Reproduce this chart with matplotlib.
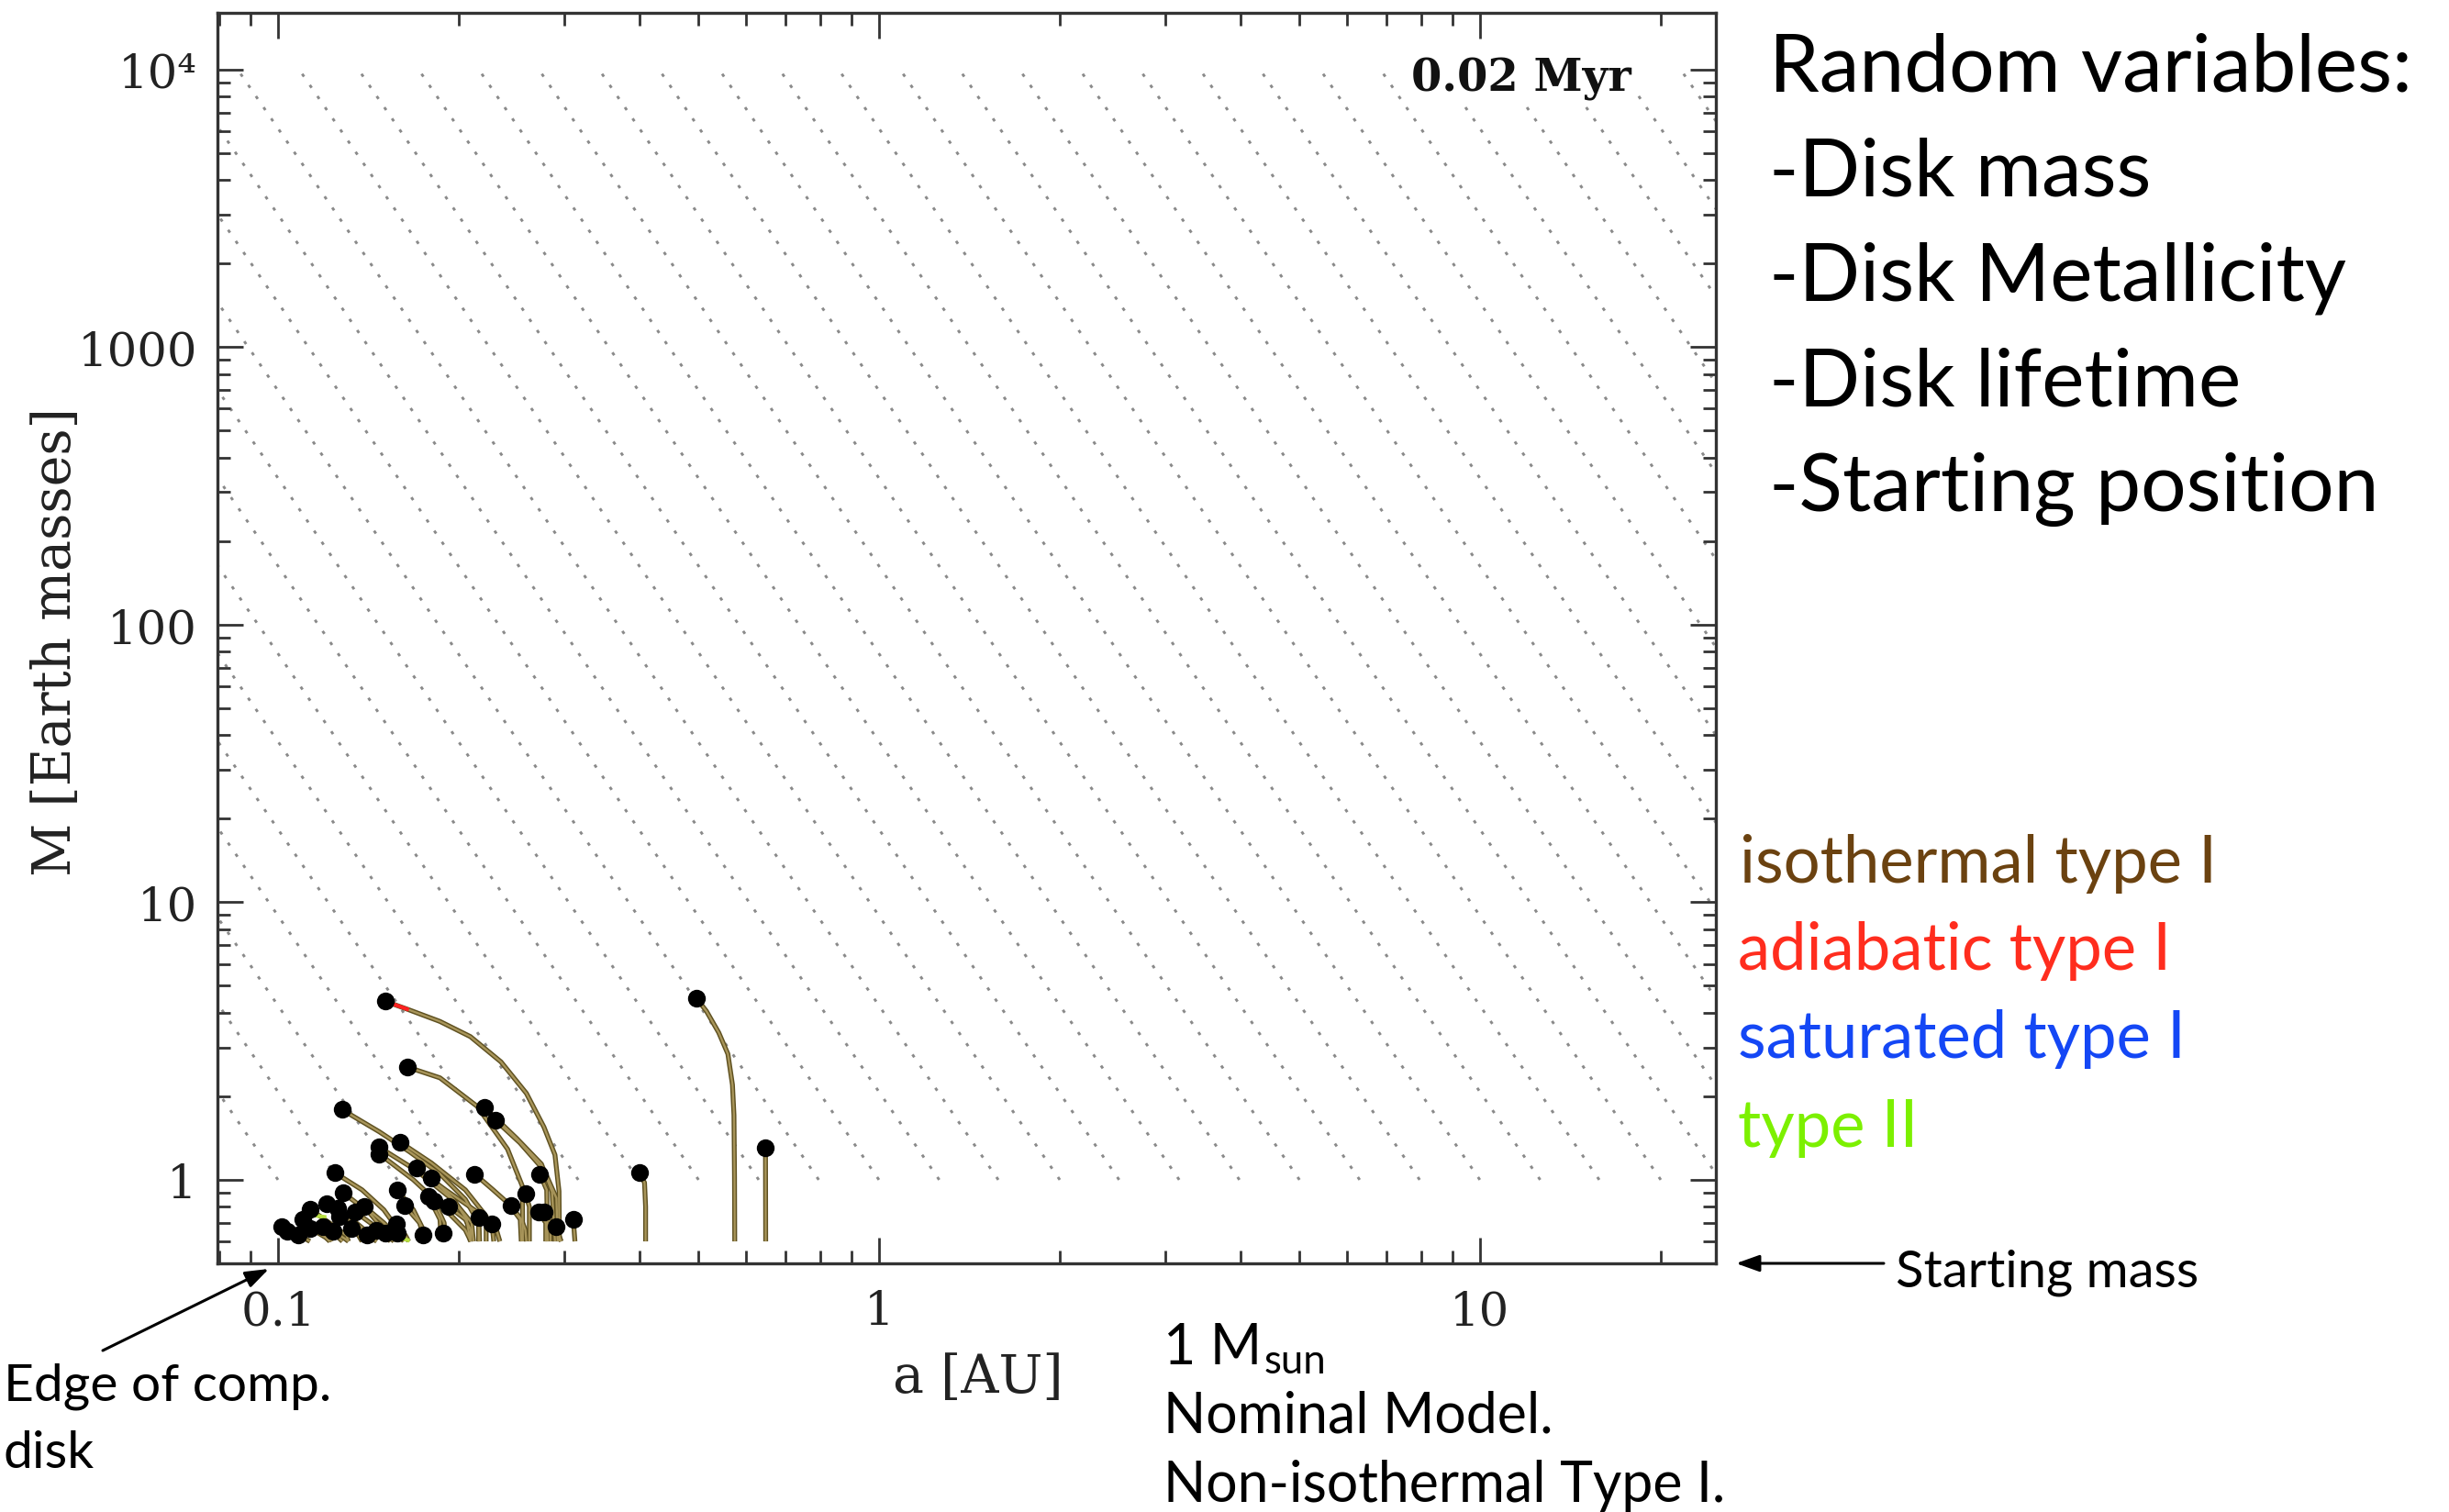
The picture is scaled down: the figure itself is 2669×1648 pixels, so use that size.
import matplotlib
matplotlib.use('Agg')
import matplotlib.pyplot as plt
from matplotlib.ticker import FixedLocator, FixedFormatter, LogLocator, NullFormatter

plt.rcParams['lines.scale_dashes'] = False

W, H, DPI = 2669, 1649, 100

# ---------------- data ----------------
x_ticks = [0.1, 1, 10]
x_ticklabels = ['0.1', '1', '10']
y_ticks = [1, 10, 100, 1000, 1e4]
y_ticklabels = ['1', '10', '100', '1000', '10⁴']
x_limits = (0.0793, 24.7)
y_limits = (0.5, 1.6e4)
time_label = '0.02 Myr'
x_label = 'a [AU]'
y_label = 'M [Earth masses]'

# background guide lines: semimajor axis where each line crosses M = 1
guide_a_at_M1 = [0.1, 0.126, 0.158, 0.2, 0.251, 0.316, 0.398, 0.501, 0.631, 0.794,
                 1.0, 1.26, 1.58, 2.0, 2.51, 3.16, 3.98, 5.01, 6.31, 7.94,
                 10.0, 12.6, 15.8, 20.0, 25.1, 31.6, 39.8, 50.1, 63.1, 79.4,
                 100, 126, 158, 200, 251, 316, 398]
guide_slope = -3.16
guide_m_range = (1.0, 1.0e4)

# planet tracks: first point = current position (dot), last = start at starting mass
track_a = [
    [0.1507, 0.164, 0.186, 0.209, 0.235, 0.259, 0.277, 0.289, 0.2935, 0.294],
    [0.4973, 0.5164, 0.5413, 0.5606, 0.5705, 0.5738, 0.575, 0.5755],
    [0.6475, 0.648],
    [0.399, 0.4073, 0.409, 0.409],
    [0.164, 0.186, 0.2145, 0.241, 0.255, 0.2555],
    [0.2208, 0.2496, 0.2744, 0.2858, 0.289],
    [0.230, 0.2526, 0.2774, 0.2906, 0.292],
    [0.2727, 0.280, 0.281],
    [0.258, 0.262, 0.262],
    [0.2124, 0.228, 0.242, 0.253, 0.254],
    [0.2439, 0.254, 0.258, 0.259],
    [0.271, 0.279, 0.279],
    [0.277, 0.284, 0.284],
    [0.310, 0.312],
    [0.290, 0.296],
    [0.2158, 0.2165],
    [0.227, 0.2286],
    [0.192, 0.205, 0.2094, 0.2094],
    [0.188, 0.19],
    [0.1278, 0.1474, 0.1657, 0.186, 0.205, 0.2157, 0.2157],
    [0.1474, 0.17, 0.195, 0.21, 0.2115],
    [0.1474, 0.168, 0.19, 0.205, 0.2094],
    [0.1594, 0.18, 0.205, 0.222, 0.222],
    [0.1698, 0.19, 0.212, 0.230, 0.234],
    [0.180, 0.196, 0.206, 0.209],
    [0.1244, 0.138, 0.150, 0.157, 0.158],
    [0.1283, 0.142, 0.150, 0.151],
    [0.158, 0.168, 0.174, 0.1746],
    [0.1624, 0.172, 0.176],
    [0.178, 0.186, 0.187],
    [0.182, 0.189, 0.19],
    [0.139, 0.150, 0.156, 0.157],
    [0.1343, 0.145, 0.15, 0.151],
    [0.1207, 0.132, 0.140, 0.142],
    [0.1133, 0.124, 0.130, 0.131],
    [0.1259, 0.136, 0.143, 0.145],
    [0.1265, 0.135, 0.138],
    [0.110, 0.118, 0.122, 0.123],
    [0.1013, 0.107, 0.110],
    [0.1037, 0.108, 0.109],
    [0.108, 0.113],
    [0.1133, 0.120, 0.122],
    [0.119, 0.126, 0.128],
    [0.1236, 0.129, 0.131],
    [0.1327, 0.140, 0.142],
    [0.1406, 0.146],
    [0.1457, 0.152, 0.154],
    [0.151, 0.156],
    [0.1572, 0.163, 0.165],
    [0.158, 0.162],
    [0.1746, 0.177],
]
track_m = [
    [4.40, 4.12, 3.72, 3.28, 2.66, 2.05, 1.55, 1.23, 0.91, 0.60],
    [4.50, 4.05, 3.39, 2.84, 2.20, 1.71, 1.03, 0.60],
    [1.30, 0.60],
    [1.06, 0.977, 0.80, 0.60],
    [2.55, 2.33, 1.84, 1.29, 0.95, 0.60],
    [1.82, 1.41, 1.14, 0.906, 0.60],
    [1.64, 1.36, 1.08, 0.86, 0.60],
    [1.05, 0.92, 0.60],
    [0.894, 0.80, 0.60],
    [1.05, 0.92, 0.82, 0.72, 0.60],
    [0.808, 0.72, 0.66, 0.60],
    [0.768, 0.70, 0.60],
    [0.768, 0.70, 0.60],
    [0.721, 0.60],
    [0.676, 0.60],
    [0.730, 0.60],
    [0.694, 0.60],
    [0.804, 0.72, 0.66, 0.60],
    [0.643, 0.60],
    [1.79, 1.49, 1.26, 1.05, 0.85, 0.70, 0.60],
    [1.31, 1.08, 0.85, 0.70, 0.60],
    [1.24, 1.00, 0.78, 0.66, 0.60],
    [1.37, 1.15, 0.92, 0.74, 0.60],
    [1.10, 0.92, 0.78, 0.68, 0.60],
    [1.015, 0.85, 0.72, 0.60],
    [1.06, 0.92, 0.78, 0.68, 0.60],
    [0.899, 0.76, 0.66, 0.60],
    [0.917, 0.78, 0.67, 0.60],
    [0.808, 0.70, 0.60],
    [0.872, 0.72, 0.60],
    [0.839, 0.70, 0.60],
    [0.804, 0.70, 0.64, 0.60],
    [0.768, 0.68, 0.63, 0.60],
    [0.818, 0.71, 0.64, 0.60],
    [0.782, 0.68, 0.63, 0.60],
    [0.788, 0.69, 0.63, 0.60],
    [0.739, 0.65, 0.60],
    [0.721, 0.66, 0.62, 0.60],
    [0.677, 0.63, 0.60],
    [0.651, 0.62, 0.60],
    [0.635, 0.60],
    [0.668, 0.62, 0.60],
    [0.677, 0.62, 0.60],
    [0.651, 0.615, 0.60],
    [0.668, 0.62, 0.60],
    [0.635, 0.60],
    [0.660, 0.62, 0.60],
    [0.643, 0.60],
    [0.694, 0.63, 0.60],
    [0.643, 0.60],
    [0.635, 0.60],
]
# adiabatic (red) and type II (green) pieces of tracks
adiabatic_a = [[0.1507, 0.164]]
adiabatic_m = [[4.40, 4.12]]
typeII_a = [[0.116, 0.1195], [0.162, 0.1645]]
typeII_m = [[0.742, 0.735], [0.612, 0.606]]

right_title = 'Random variables:'
right_items = ['-Disk mass', '-Disk Metallicity', '-Disk lifetime', '-Starting position']
legend_labels = ['isothermal type I', 'adiabatic type I', 'saturated type I', 'type II']
legend_colors = ['#6B4210', '#FF2D1E', '#1447F5', '#7CF000']
model_lines = ['Nominal Model.', 'Non-isothermal Type I.']

# ---------------- figure ----------------
fig = plt.figure(figsize=(W / DPI, H / DPI), dpi=DPI)
fig.patch.set_facecolor('white')


def fx(px):
    return px / W


def fy(py):
    return 1 - py / H


ax = fig.add_axes([fx(237), fy(1378), (1870 - 237) / W, (1378 - 15) / H])
ax.set_xscale('log')
ax.set_yscale('log')
ax.set_xlim(*x_limits)
ax.set_ylim(*y_limits)

# guide lines
for a1 in guide_a_at_M1:
    m0, m1 = guide_m_range
    a_top = a1 * (m1 / m0) ** (1.0 / guide_slope)
    ax.plot([a1, a_top], [m0, m1], color='#8a8a8a', lw=2.1,
            linestyle=(0, (2.6, 8.0)), zorder=1, solid_capstyle='butt')

for a, m in zip(track_a, track_m):
    ax.plot(a, m, color='#5e5020', lw=3.8, zorder=2, solid_capstyle='butt')
    ax.plot(a, m, color='#a8955a', lw=1.7, zorder=2.1, solid_capstyle='butt')
for a, m in zip(adiabatic_a, adiabatic_m):
    ax.plot(a, m, color='#FF2020', lw=3.0, zorder=2.2)
for a, m in zip(typeII_a, typeII_m):
    ax.plot(a, m, color='#B8E040', lw=3.0, zorder=2.2)

dot_a = [t[0] for t in track_a]
dot_m = [t[0] for t in track_m]
ax.scatter(dot_a, dot_m, s=195, color='black', zorder=3, linewidths=0)

# ticks
ax.xaxis.set_major_locator(FixedLocator(x_ticks))
ax.xaxis.set_major_formatter(FixedFormatter(x_ticklabels))
ax.xaxis.set_minor_locator(LogLocator(base=10, subs=range(2, 10), numticks=50))
ax.xaxis.set_minor_formatter(NullFormatter())
ax.yaxis.set_major_locator(FixedLocator(y_ticks))
ax.yaxis.set_major_formatter(FixedFormatter(y_ticklabels))
ax.yaxis.set_minor_locator(LogLocator(base=10, subs=range(2, 10), numticks=50))
ax.yaxis.set_minor_formatter(NullFormatter())

ax.tick_params(which='both', direction='in', top=True, right=True, color='#333333', width=2)
ax.tick_params(which='major', length=20)
ax.tick_params(which='minor', length=10)
ax.tick_params(axis='x', which='major', pad=20, labelsize=37, labelcolor='#222222')
ax.tick_params(axis='y', which='major', pad=16, labelsize=37, labelcolor='#222222')
for lab in ax.get_xticklabels() + ax.get_yticklabels():
    lab.set_fontfamily('DejaVu Serif')
for sp in ax.spines.values():
    sp.set_linewidth(2.4)
    sp.set_color('#333333')

ax.set_xlabel(x_label, fontsize=41, family='DejaVu Serif', color='#222222')
ax.set_ylabel(y_label, fontsize=41, family='DejaVu Serif', color='#222222')
ax.xaxis.set_label_coords(0.5077, -0.0704)
ax.yaxis.set_label_coords(-0.0906, 0.4974)

renderer = fig.canvas.get_renderer()


def fit(t, target_w):
    fs = t.get_fontsize()
    w = t.get_window_extent(renderer).width
    t.set_fontsize(fs * target_w / w)
    return t.get_fontsize()


# time label
tl = fig.text(fx(1778), fy(100), time_label, ha='right', va='baseline', fontsize=30,
              family='DejaVu Serif', fontweight='bold', color='#111111', zorder=5,
              bbox=dict(facecolor='white', edgecolor='none', pad=4))
fit(tl, 240)

# right-hand block
sans = ['Lato', 'DejaVu Sans']
t0 = fig.text(fx(1928), fy(99), right_title, ha='left', va='baseline', fontsize=60,
              family=sans, color='black')
fs_r = fit(t0, 701)
for i, s in enumerate(right_items):
    fig.text(fx(1928), fy(213 + 114.6 * i), s, ha='left', va='baseline',
             fontsize=fs_r, family=sans, color='black')

# legend-like coloured labels
leg_base = [962, 1057, 1153, 1250]
lt = fig.text(fx(1896), fy(leg_base[0]), legend_labels[0], ha='left', va='baseline',
              fontsize=50, family=sans, color=legend_colors[0])
fs_l = fit(lt, 520)
for s, c, b in zip(legend_labels[1:], legend_colors[1:], leg_base[1:]):
    fig.text(fx(1894), fy(b), s, ha='left', va='baseline', fontsize=fs_l,
             family=sans, color=c)

# starting mass annotation
st = fig.text(fx(2066), fy(1403), 'Starting mass', ha='left', va='baseline', fontsize=40,
              family=sans, color='black')
fit(st, 330)
fig.add_artist(matplotlib.patches.FancyArrowPatch(
    (fx(2053), fy(1378)), (fx(1892), fy(1378)), transform=fig.transFigure,
    arrowstyle='-|>,head_length=0.7,head_width=0.25', mutation_scale=22,
    lw=2.2, color='black', shrinkA=0, shrinkB=0))

# edge of computational disk
et = fig.text(fx(4), fy(1527), 'Edge of comp.', ha='left', va='baseline', fontsize=36,
              family=sans, color='black')
fs_e = fit(et, 357)
fig.text(fx(4), fy(1600), 'disk', ha='left', va='baseline', fontsize=fs_e,
         family=sans, color='black')
fig.add_artist(matplotlib.patches.FancyArrowPatch(
    (fx(112), fy(1473)), (fx(293), fy(1384)), transform=fig.transFigure,
    arrowstyle='-|>,head_length=0.7,head_width=0.25', mutation_scale=22,
    lw=2.2, color='black', shrinkA=0, shrinkB=0))

# model description
mt = fig.text(fx(1268), fy(1637), model_lines[1], ha='left', va='baseline', fontsize=40,
              family=sans, color='black')
fs_m = fit(mt, 613)
fig.text(fx(1268), fy(1562), model_lines[0], ha='left', va='baseline', fontsize=fs_m,
         family=sans, color='black')
m1 = fig.text(fx(1268), fy(1487), '1 M', ha='left', va='baseline', fontsize=fs_m,
              family=sans, color='black')
w1 = m1.get_window_extent(renderer).width
fig.text(fx(1268 + w1 + 2), fy(1497), 'sun', ha='left', va='baseline', fontsize=fs_m * 0.72,
         family=sans, color='black')

fig.savefig('out.png', dpi=DPI, facecolor='white')
